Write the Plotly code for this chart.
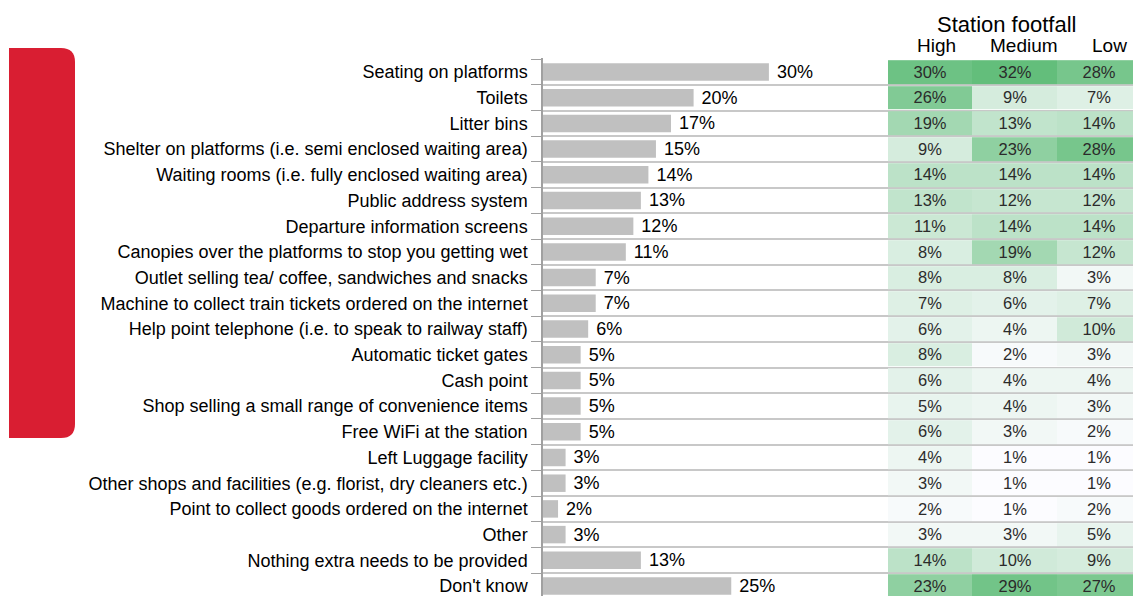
import plotly.graph_objects as go

categories = [
    "Seating on platforms",
    "Toilets",
    "Litter bins",
    "Shelter on platforms (i.e. semi enclosed waiting area)",
    "Waiting rooms (i.e. fully enclosed waiting area)",
    "Public address system",
    "Departure information screens",
    "Canopies over the platforms to stop you getting wet",
    "Outlet selling tea/ coffee, sandwiches and snacks",
    "Machine to collect train tickets ordered on the internet",
    "Help point telephone (i.e. to speak to railway staff)",
    "Automatic ticket gates",
    "Cash point",
    "Shop selling a small range of convenience items",
    "Free WiFi at the station",
    "Left Luggage facility",
    "Other shops and facilities (e.g. florist, dry cleaners etc.)",
    "Point to collect goods ordered on the internet",
    "Other",
    "Nothing extra needs to be provided",
    "Don't know",
]
overall = [30, 20, 17, 15, 14, 13, 12, 11, 7, 7, 6, 5, 5, 5, 5, 3, 3, 2, 3, 13, 25]
footfall_levels = ["High", "Medium", "Low"]
high = [30, 26, 19, 9, 14, 13, 11, 8, 8, 7, 6, 8, 6, 5, 6, 4, 3, 2, 3, 14, 23]
medium = [32, 9, 13, 23, 14, 12, 14, 19, 8, 6, 4, 2, 4, 4, 3, 1, 1, 1, 3, 10, 29]
low = [28, 7, 14, 28, 14, 12, 14, 12, 3, 7, 10, 3, 4, 3, 2, 1, 1, 2, 5, 9, 27]

# page body has an 8px margin: the figure is placed at (8, 8) in the window
OFF = 8
WIN_W, WIN_H = 1141, 596
W, H = WIN_W - OFF, WIN_H - OFF
FONT = "Liberation Sans, Arial, sans-serif"

def fx(x):  # window px -> paper x
    return (x - OFF) / W
def fy(y):  # window px -> paper y
    return 1 - (y - OFF) / H

AXIS_X = 543
HEAT_X = 888
ROW0 = 72
ROW_H = 25.7
PX_PER_PCT = 7.53
TOP_PAD = 0.53  # rows above first row center where the plot starts

z = [[h, m, l] for h, m, l in zip(high, medium, low)]

fig = go.Figure()
fig.add_trace(go.Bar(
    y=categories, x=overall, orientation="h",
    marker=dict(color="#c0c0c0", line=dict(width=0)),
    width=0.68,
    text=["\u00a0%d%%" % v for v in overall],
    textposition="outside", cliponaxis=False, constraintext="none",
    textfont=dict(size=18, color="#000000", family=FONT),
    xaxis="x", yaxis="y", hoverinfo="skip",
))
fig.add_trace(go.Heatmap(
    z=z, x=footfall_levels, y=categories,
    colorscale=[[0, "#FCFCFF"], [1, "#63BE7B"]], zmin=1, zmax=32,
    showscale=False, ygap=2,
    texttemplate="%{z}%", textfont=dict(size=16.5, color="#2b2b2b", family=FONT),
    xaxis="x2", yaxis="y", hoverinfo="skip",
))

top_px = ROW0 - TOP_PAD * ROW_H
y_top = -TOP_PAD
y_bot = (WIN_H - ROW0) / ROW_H
fig.update_layout(
    width=W, height=H,
    margin=dict(l=0, r=0, t=0, b=0),
    paper_bgcolor="white", plot_bgcolor="white",
    showlegend=False,
    font=dict(family=FONT, color="#000000"),
    xaxis=dict(domain=[fx(AXIS_X), 1], range=[0, (WIN_W - AXIS_X) / PX_PER_PCT], visible=False,
               showgrid=False, zeroline=False, fixedrange=True),
    xaxis2=dict(domain=[fx(HEAT_X), 1], anchor="y", visible=False,
                showgrid=False, categoryorder="array", categoryarray=footfall_levels),
    yaxis=dict(domain=[0, fy(top_px)], type="category", categoryorder="array", categoryarray=categories,
               range=[y_bot, y_top],
               tickson="boundaries", ticks="outside", ticklen=10, tickcolor="#a0a0a0",
               ticklabelstandoff=10,
               showgrid=True, gridcolor="#c8c8c8", gridwidth=1.5,
               showline=True, linecolor="#a0a0a0", linewidth=1.5,
               tickfont=dict(size=18, color="#000000", family=FONT),
               automargin=False, zeroline=False),
    bargap=0.3,
)

# header annotations
fig.add_annotation(text="Station footfall", x=fx(1006), y=fy(24), xref="paper", yref="paper",
                   showarrow=False, font=dict(size=22, color="#000000", family=FONT),
                   xanchor="center", yanchor="middle")
for lvl, shift in zip(footfall_levels, [6, 9, 11]):
    fig.add_annotation(text=lvl, x=lvl, xref="x2", y=fy(45), yref="paper",
                       showarrow=False, xshift=shift,
                       font=dict(size=19, color="#000000", family=FONT),
                       xanchor="center", yanchor="middle")

# red decorative tab with rounded right corners
r = 14
L, R, T, B = 9, 75, 48, 438
path = (f"M {fx(L)},{fy(T)} L {fx(R - r)},{fy(T)} Q {fx(R)},{fy(T)} {fx(R)},{fy(T + r)} "
        f"L {fx(R)},{fy(B - r)} Q {fx(R)},{fy(B)} {fx(R - r)},{fy(B)} L {fx(L)},{fy(B)} Z")
fig.add_shape(type="path", path=path, xref="paper", yref="paper",
              fillcolor="#D91E32", line=dict(width=0), layer="above")

fig.write_html("out.html")
